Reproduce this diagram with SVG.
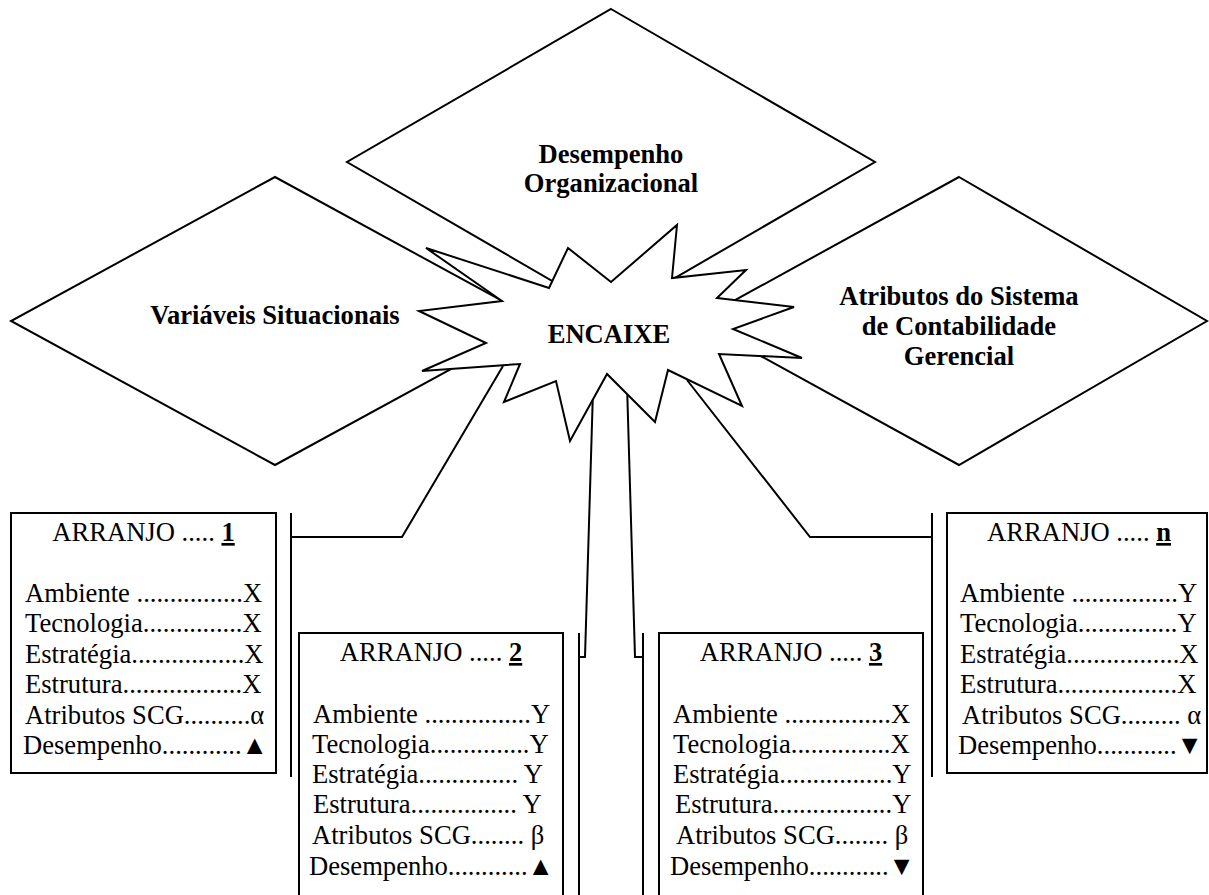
<svg xmlns="http://www.w3.org/2000/svg" width="1209" height="895" viewBox="0 0 1209 895">
<style>
.shape{fill:#fff;stroke:#000;stroke-width:2;stroke-linejoin:miter}
.ln{fill:none;stroke:#000;stroke-width:2}
.b{font-family:"Liberation Serif","Times New Roman",serif;font-weight:bold;font-size:26.6px;fill:#000;text-anchor:middle}
.t{font-family:"Liberation Serif","Times New Roman",serif;font-size:26.6px;fill:#000}
.h{text-anchor:middle}
.u{font-weight:bold;text-decoration:underline}
</style>
<rect width="1209" height="895" fill="#fff"/>
<g id="desempenho-organizacional">
<polygon class="shape" points="611,9 875,162 611,315 347,162"/>
<text class="b" x="611" y="163">Desempenho</text>
<text class="b" x="611" y="192">Organizacional</text>
</g>
<g id="variaveis-situacionais">
<polygon class="shape" points="275,177 539,321 275,465 11,321"/>
<text class="b" x="275" y="324">Variáveis Situacionais</text>
</g>
<g id="atributos-scg">
<polygon class="shape" points="959,177 1207,321 959,465 697,321"/>
<text class="b" x="959" y="305">Atributos do Sistema</text>
<text class="b" x="959" y="335">de Contabilidade</text>
<text class="b" x="959" y="365">Gerencial</text>
</g>
<g id="encaixe">
<polygon class="shape" points="568,248 611,282 677,225 672,278 746,270 717,298 794,307 733,329 802,358 719,354 742,406 668,370 655,422 607,374 570,441 556,381 504,402 520,364 422,371 486,343 419,311 502,301 426,248 549,288"/>
<text class="b" x="609" y="343">ENCAIXE</text>
</g>
<g id="connectors">
<polyline class="ln" points="503,366 402,537 291,537"/>
<line class="ln" x1="291" y1="513" x2="291" y2="777"/>
<polyline class="ln" points="592.7,400 585,657 579,657"/>
<line class="ln" x1="579" y1="633" x2="579" y2="895"/>
<polyline class="ln" points="627.3,394.5 635,657 643,657"/>
<line class="ln" x1="643" y1="633" x2="643" y2="895"/>
<polyline class="ln" points="687,380 810,537 932,537"/>
<line class="ln" x1="932" y1="513" x2="932" y2="777"/>
</g>
<g id="arranjo-1">
<rect class="shape" x="11" y="513" width="265" height="260"/>
<text class="t h" x="143.5" y="541">ARRANJO ..... <tspan class="u">1</tspan></text>
<text class="t" x="25" y="602">Ambiente ................X</text>
<text class="t" x="25" y="632">Tecnologia...............X</text>
<text class="t" x="25" y="663">Estratégia.................X</text>
<text class="t" x="25" y="693">Estrutura..................X</text>
<text class="t" x="25" y="724">Atributos SCG..........α</text>
<text class="t" x="23" y="754">Desempenho............▲</text>
</g>
<g id="arranjo-2">
<rect class="shape" x="299" y="633" width="264" height="270"/>
<text class="t h" x="431" y="661">ARRANJO ..... <tspan class="u">2</tspan></text>
<text class="t" x="313" y="723">Ambiente ................Y</text>
<text class="t" x="312" y="753">Tecnologia...............Y</text>
<text class="t" x="312" y="783">Estratégia............... Y</text>
<text class="t" x="313" y="813">Estrutura................ Y</text>
<text class="t" x="312" y="844">Atributos SCG........ β</text>
<text class="t" x="309" y="875">Desempenho............▲</text>
</g>
<g id="arranjo-3">
<rect class="shape" x="659" y="633" width="264" height="270"/>
<text class="t h" x="791" y="661">ARRANJO ..... <tspan class="u">3</tspan></text>
<text class="t" x="673" y="723">Ambiente ................X</text>
<text class="t" x="673" y="753">Tecnologia...............X</text>
<text class="t" x="673" y="783">Estratégia.................Y</text>
<text class="t" x="675" y="813">Estrutura..................Y</text>
<text class="t" x="676" y="844">Atributos SCG........ β</text>
<text class="t" x="670" y="875">Desempenho............▼</text>
</g>
<g id="arranjo-n">
<rect class="shape" x="947" y="513" width="260" height="260"/>
<text class="t h" x="1079" y="541">ARRANJO ..... <tspan class="u">n</tspan></text>
<text class="t" x="960" y="602">Ambiente ................Y</text>
<text class="t" x="960" y="632">Tecnologia...............Y</text>
<text class="t" x="960" y="663">Estratégia.................X</text>
<text class="t" x="960" y="693">Estrutura..................X</text>
<text class="t" x="962" y="724">Atributos SCG......... α</text>
<text class="t" x="958" y="754">Desempenho............▼</text>
</g>
</svg>
